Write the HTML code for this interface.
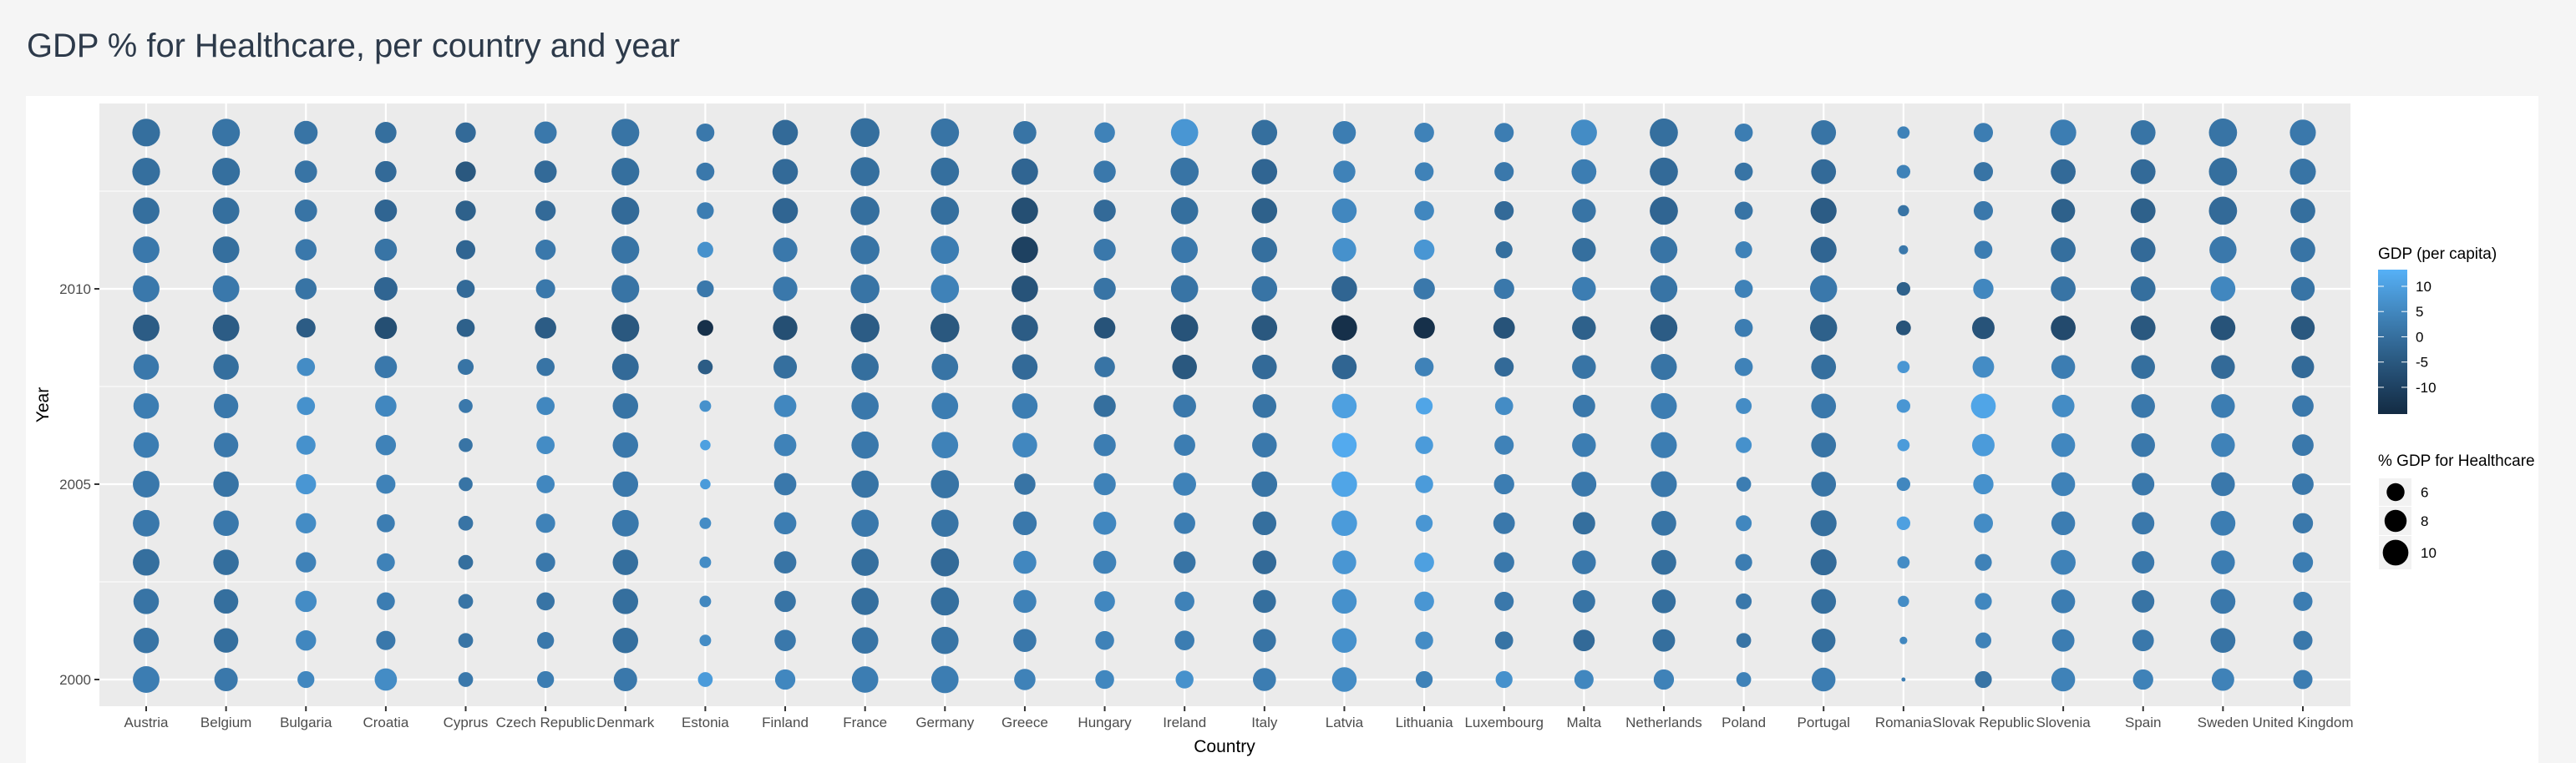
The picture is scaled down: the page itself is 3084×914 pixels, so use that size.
<!DOCTYPE html>
<html><head><meta charset="utf-8">
<style>
html,body{margin:0;padding:0;background:#f5f5f5;}
svg{display:block;}
</style></head>
<body>
<svg id="chart" width="3084" height="914" xmlns="http://www.w3.org/2000/svg">
  <rect x="0" y="0" width="3084" height="914" fill="#f5f5f5"/>
  <text x="32" y="68" font-family="'Liberation Sans', sans-serif" font-size="40" fill="#2d3a4a" textLength="782" lengthAdjust="spacingAndGlyphs">GDP % for Healthcare, per country and year</text>
  <rect x="31" y="115" width="3008" height="799" fill="#ffffff"/>
  <rect x="119" y="124" width="2695" height="722" fill="#ebebeb"/>
  <g id="grid"></g>
  <g id="points"></g>
  <g id="xaxis"></g>
  <g id="yaxis"></g>
  <text x="1466" y="901" text-anchor="middle" font-family="'Liberation Sans', sans-serif" font-size="21" fill="#000">Country</text>
  <text transform="translate(58,485) rotate(-90)" text-anchor="middle" font-family="'Liberation Sans', sans-serif" font-size="21" fill="#000">Year</text>
  <g id="legend"></g>
</svg>
<script>
const countries = ["Austria","Belgium","Bulgaria","Croatia","Cyprus","Czech Republic","Denmark","Estonia","Finland","France","Germany","Greece","Hungary","Ireland","Italy","Latvia","Lithuania","Luxembourg","Malta","Netherlands","Poland","Portugal","Romania","Slovak Republic","Slovenia","Spain","Sweden","United Kingdom"];
const years = [2014,2013,2012,2011,2010,2009,2008,2007,2006,2005,2004,2003,2002,2001,2000];
const yTicks = [2000,2005,2010];
const yMinorTicks = [2002.5,2007.5,2012.5];
const colorTicks = [10,5,0,-5,-10];
const sizeKeys = [6,8,10];
// % GDP for healthcare, rows follow `years`
const healthAustria = [11.3,11.3,10.6,10.6,10.6,10.6,9.9,9.9,9.9,10.6,10.6,10.6,9.9,9.9,10.6];
const healthBelgium = [11.3,11.3,10.6,10.6,10.6,10.6,9.9,9.3,9.3,9.9,9.9,9.9,9.3,9.3,8.7];
const healthBulgaria = [8.7,8.1,8.1,7.6,7.6,6.6,6.1,6.1,6.6,7.1,7.1,7.1,7.6,7.1,5.6];
const healthCroatia = [7.6,7.6,8.1,8.1,8.7,8.1,8.1,7.6,7.1,6.6,6.1,6.1,6.1,6.6,8.1];
const healthCyprus = [7.1,7.1,7.1,6.6,6.1,6.1,5.2,4.5,4.5,4.5,4.8,4.8,4.8,4.8,4.8];
const healthCzech = [8.1,8.1,7.1,7.1,6.6,7.6,6.1,6.1,6.1,6.1,6.6,6.6,6.1,5.6,5.6];
const healthDenmark = [11.3,11.3,11.3,11.3,11.3,11.3,10.6,9.9,9.9,9.9,10.6,9.9,9.9,9.9,8.7];
const healthEstonia = [6.1,6.1,5.6,5.2,5.6,5.2,4.8,3.8,3.5,3.5,3.8,3.8,3.8,3.8,4.8];
const healthFinland = [9.9,9.9,9.9,9.3,9.3,9.3,8.7,8.1,8.1,8.1,8.1,8.1,7.6,7.6,7.1];
const healthFrance = [12.1,12.1,12.1,12.1,12.1,12.1,11.0,11.0,11.0,11.0,11.0,11.0,11.0,10.5,10.5];
const healthGermany = [11.6,11.6,11.6,11.6,11.6,12.1,10.5,10.5,10.5,11.6,11.0,11.6,11.6,11.0,11.0];
const healthGreece = [8.5,10.5,10.5,10.5,10.5,10.5,9.9,9.9,9.4,7.6,8.9,8.5,8.5,8.5,7.6];
const healthHungary = [7.2,8.0,8.0,8.0,8.0,7.6,7.2,8.0,8.0,8.0,8.5,8.5,7.2,6.4,6.4];
const healthIreland = [11.0,11.6,11.0,10.5,11.0,11.0,9.4,8.5,7.6,8.5,7.6,8.0,6.8,6.8,6.0];
const healthItaly = [9.9,9.9,9.9,9.9,9.9,9.9,9.4,8.9,9.4,9.9,8.9,8.9,8.5,8.5,8.5];
const healthLatvia = [8.5,8.0,9.4,8.9,9.9,9.9,9.4,9.4,9.4,9.9,9.9,8.9,9.4,9.4,9.4];
const healthLithuania = [6.8,6.4,6.8,7.2,7.6,7.6,6.4,5.6,6.0,6.0,5.6,6.8,6.8,6.0,5.6];
const healthLuxembourg = [6.6,6.6,6.6,5.6,7.1,7.7,6.6,6.1,6.6,7.1,7.7,7.1,6.6,6.1,5.6];
const healthMalta = [10.2,9.5,8.9,8.9,8.9,8.9,8.9,8.2,8.9,9.5,8.2,8.9,8.2,7.7,6.6];
const healthNetherlands = [11.6,11.6,11.6,10.9,10.9,10.9,10.2,10.2,10.2,10.2,9.5,9.5,8.9,8.2,7.1];
const healthPoland = [6.1,6.1,6.1,5.6,6.1,6.1,6.1,5.2,5.2,4.8,5.2,5.6,5.2,4.8,4.8];
const healthPortugal = [9.5,9.5,10.2,10.2,10.9,10.9,9.5,9.5,9.5,9.5,10.2,10.2,9.5,8.9,8.9];
const healthRomania = [4.0,4.4,3.7,3.2,4.4,4.8,4.0,4.4,4.0,4.4,4.4,4.0,3.7,2.9,2.4];
const healthSlovak = [6.6,6.6,6.6,6.1,7.1,8.2,7.7,9.5,8.2,7.1,6.6,5.6,5.6,5.2,5.6];
const healthSlovenia = [10.2,9.5,8.9,9.5,9.5,9.5,8.9,8.2,8.9,8.9,8.9,9.5,8.9,8.2,8.9];
const healthSpain = [9.5,9.5,9.5,9.5,9.5,9.5,8.9,8.9,8.9,8.2,8.2,8.2,8.2,7.7,7.1];
const healthSweden = [11.6,11.6,11.6,10.9,9.5,9.5,8.9,8.9,8.9,8.9,9.5,8.9,9.5,9.5,8.2];
const healthUK = [10.2,10.2,9.5,9.5,8.9,8.9,8.2,7.7,7.7,7.7,7.1,7.1,6.6,6.6,6.6];
// GDP per capita growth, rows follow `years`
const gdpAustria = [0,0,0,2,2,-4,2,3,3,2,2,0,1,1,3];
const gdpBelgium = [1,0,0,0,2,-4,0,2,2,1,2,0,0,0,2];
const gdpBulgaria = [1,1,1,2,1,-4,6,7,7,8,6,4,6,5,5];
const gdpCroatia = [0,-1,-2,1,-2,-7,2,5,4,4,3,4,3,2,6];
const gdpCyprus = [-1,-5,-3,-2,-1,-3,1,2,1,1,1,0,1,1,2];
const gdpCzech = [2,-1,-1,2,2,-4,1,5,6,5,4,2,1,2,3];
const gdpDenmark = [1,0,-1,1,1,-5,-1,1,2,2,2,0,0,0,2];
const gdpEstonia = [2,2,3,7,2,-14,-4,7,10,9,6,6,5,6,9];
const gdpFinland = [-1,-1,-2,2,2,-7,0,5,4,2,3,1,1,2,5];
const gdpFrance = [0,0,0,1,1,-4,0,2,2,1,2,0,0,1,3];
const gdpGermany = [1,0,0,3,4,-5,1,3,4,1,1,-1,0,1,3];
const gdpGreece = [1,-2,-7,-10,-6,-4,-1,3,5,1,2,5,4,2,4];
const gdpHungary = [4,2,-1,2,1,-6,1,0,3,4,5,4,5,4,5];
const gdpIreland = [8,1,0,2,1,-6,-5,2,3,4,3,1,4,3,7];
const gdpItaly = [0,-2,-3,0,1,-5,-1,1,2,1,0,-1,0,1,3];
const gdpLatvia = [3,4,5,7,-2,-14,-2,10,12,11,9,8,7,7,6];
const gdpLithuania = [4,4,5,8,2,-14,4,11,9,9,8,10,8,6,4];
const gdpLuxembourg = [3,2,-1,0,2,-6,-1,6,4,3,2,2,2,1,7];
const gdpMalta = [6,3,1,0,3,-3,1,2,3,2,0,2,1,-1,5];
const gdpNetherlands = [0,-1,-2,1,1,-4,1,3,3,2,1,0,0,0,4];
const gdpPoland = [3,1,1,4,4,3,4,6,7,3,5,3,2,1,4];
const gdpPortugal = [1,-1,-4,-2,2,-3,0,2,1,1,0,-1,0,0,3];
const gdpRomania = [4,4,1,2,-3,-6,8,8,9,5,10,6,6,5,3];
const gdpSlovak = [3,1,2,3,5,-6,6,11,9,7,6,4,5,4,1];
const gdpSlovenia = [3,-1,-3,0,1,-8,3,6,5,4,3,4,3,3,4];
const gdpSpain = [1,-1,-3,-1,0,-5,0,2,2,2,2,2,1,2,4];
const gdpSweden = [1,0,-1,2,5,-6,-1,3,4,2,3,3,2,1,4];
const gdpUK = [2,1,0,1,1,-5,-1,2,2,2,2,3,3,2,3];

const healthByCountry = [healthAustria,healthBelgium,healthBulgaria,healthCroatia,healthCyprus,healthCzech,healthDenmark,healthEstonia,healthFinland,healthFrance,healthGermany,healthGreece,healthHungary,healthIreland,healthItaly,healthLatvia,healthLithuania,healthLuxembourg,healthMalta,healthNetherlands,healthPoland,healthPortugal,healthRomania,healthSlovak,healthSlovenia,healthSpain,healthSweden,healthUK];
const gdpByCountry = [gdpAustria,gdpBelgium,gdpBulgaria,gdpCroatia,gdpCyprus,gdpCzech,gdpDenmark,gdpEstonia,gdpFinland,gdpFrance,gdpGermany,gdpGreece,gdpHungary,gdpIreland,gdpItaly,gdpLatvia,gdpLithuania,gdpLuxembourg,gdpMalta,gdpNetherlands,gdpPoland,gdpPortugal,gdpRomania,gdpSlovak,gdpSlovenia,gdpSpain,gdpSweden,gdpUK];

const NS = "http://www.w3.org/2000/svg";
const PX0 = 119, PX1 = 2814, PY0 = 124, PY1 = 846;
const FIRSTX = 175, LASTX = 2757;
function xScale(i){ return FIRSTX + i*(LASTX-FIRSTX)/(countries.length-1); }
function yScale(y){ return 814 + (y-2000)*(346-814)/10; }
function rScale(v){ return 5.5*Math.sqrt(Math.max(v-2.2,0.05)); }
const CMIN = -15.3, CMAX = 13.3;
function srgb2lin(c){ c/=255; return c<=0.04045?c/12.92:Math.pow((c+0.055)/1.055,2.4); }
function lin2srgb(c){ c = c<=0.0031308?12.92*c:1.055*Math.pow(c,1/2.4)-0.055; return Math.round(Math.max(0,Math.min(1,c))*255); }
function toLab(hex){
  const r=srgb2lin(parseInt(hex.substr(1,2),16)), g=srgb2lin(parseInt(hex.substr(3,2),16)), b=srgb2lin(parseInt(hex.substr(5,2),16));
  let X=(0.4124*r+0.3576*g+0.1805*b)/0.95047, Y=(0.2126*r+0.7152*g+0.0722*b), Z=(0.0193*r+0.1192*g+0.9505*b)/1.08883;
  const f=t=>t>0.008856?Math.cbrt(t):7.787*t+16/116;
  return [116*f(Y)-16, 500*(f(X)-f(Y)), 200*(f(Y)-f(Z))];
}
function fromLab(L,a,bb){
  const fy=(L+16)/116, fx=fy+a/500, fz=fy-bb/200;
  const inv=t=>t*t*t>0.008856?t*t*t:(t-16/116)/7.787;
  const X=inv(fx)*0.95047, Y=inv(fy), Z=inv(fz)*1.08883;
  const r=3.2406*X-1.5372*Y-0.4986*Z, g=-0.9689*X+1.8758*Y+0.0415*Z, b=0.0557*X-0.2040*Y+1.0570*Z;
  return "rgb("+lin2srgb(r)+","+lin2srgb(g)+","+lin2srgb(b)+")";
}
const LOW = toLab("#132B43"), HIGH = toLab("#56B1F7");
function colorScale(v){
  let t=(v-CMIN)/(CMAX-CMIN); t=Math.max(0,Math.min(1,t));
  return fromLab(LOW[0]+(HIGH[0]-LOW[0])*t, LOW[1]+(HIGH[1]-LOW[1])*t, LOW[2]+(HIGH[2]-LOW[2])*t);
}
function mk(tag, attrs, parent){
  const e=document.createElementNS(NS,tag);
  for(const k in attrs) e.setAttribute(k,attrs[k]);
  parent.appendChild(e); return e;
}

// grid
const grid=document.getElementById("grid");
yMinorTicks.forEach(y=>{
  const l=mk("line",{x1:PX0,x2:PX1,y1:yScale(y),y2:yScale(y),stroke:"#ffffff","stroke-width":1.1},grid);
  
  
});
yTicks.forEach(y=>{
  const l=mk("line",{x1:PX0,x2:PX1,y1:yScale(y),y2:yScale(y),stroke:"#ffffff","stroke-width":2.2},grid);
  
  
});
countries.forEach((c,i)=>{
  const l=mk("line",{x1:xScale(i),x2:xScale(i),y1:PY0,y2:PY1,stroke:"#ffffff","stroke-width":2.2},grid);
  
  
});

// points
const pts=document.getElementById("points");
countries.forEach((c,i)=>{
  years.forEach((y,j)=>{
    const p=mk("circle",{cx:xScale(i),cy:yScale(y),r:rScale(healthByCountry[i][j]),fill:colorScale(gdpByCountry[i][j])},pts);
    
    
  });
});

// x axis
const xa=document.getElementById("xaxis");
countries.forEach((c,i)=>{
  const t=mk("line",{x1:xScale(i),x2:xScale(i),y1:PY1,y2:PY1+6,stroke:"#333333","stroke-width":2},xa);
  
  
  const lb=mk("text",{x:xScale(i),y:871,"text-anchor":"middle","font-family":"'Liberation Sans', sans-serif","font-size":17,fill:"#4d4d4d"},xa);
  lb.textContent=c;
  
  
});
// y axis
const ya=document.getElementById("yaxis");
yTicks.forEach(y=>{
  const t=mk("line",{x1:PX0-6,x2:PX0,y1:yScale(y),y2:yScale(y),stroke:"#333333","stroke-width":2},ya);
  
  
  const lb=mk("text",{x:109,y:yScale(y)+6,"text-anchor":"end","font-family":"'Liberation Sans', sans-serif","font-size":17,fill:"#4d4d4d"},ya);
  lb.textContent=y;
  
  
});

// legend
const lg=document.getElementById("legend");
const LT = mk("text",{x:2847,y:310,"font-family":"'Liberation Sans', sans-serif","font-size":19,fill:"#000"},lg);
LT.textContent="GDP (per capita)";


const defs=mk("defs",{},lg);
const grad=mk("linearGradient",{id:"cbar",x1:0,y1:1,x2:0,y2:0},defs);
for(let k=0;k<=10;k++){
  mk("stop",{offset:k/10,"stop-color":colorScale(CMIN+(CMAX-CMIN)*k/10)},grad);
}
const CB0=323, CB1=496;
function cbY(v){ return CB1 + (v-CMIN)*(CB0-CB1)/(CMAX-CMIN); }
const bar=mk("rect",{x:2847,y:CB0,width:35,height:CB1-CB0,fill:"url(#cbar)"},lg);


colorTicks.forEach(v=>{
  const a=mk("line",{x1:2847,x2:2854,y1:cbY(v),y2:cbY(v),stroke:"#fff","stroke-width":1},lg);
  
  
  const b=mk("line",{x1:2875,x2:2882,y1:cbY(v),y2:cbY(v),stroke:"#fff","stroke-width":1},lg);
  
  
  const t=mk("text",{x:2892,y:cbY(v)+6,"font-family":"'Liberation Sans', sans-serif","font-size":17,fill:"#000"},lg);
  t.textContent=v;
  
  
});
const ST = mk("text",{x:2847,y:558,"font-family":"'Liberation Sans', sans-serif","font-size":19,fill:"#000"},lg);
ST.textContent="% GDP for Healthcare";


const keyTops=[573,607,642], keyH=[33,34,40];
sizeKeys.forEach((v,k)=>{
  const bx=mk("rect",{x:2848,y:keyTops[k],width:39,height:keyH[k],fill:"#f2f2f2"},lg);
  
  
  const cy=keyTops[k]+keyH[k]/2;
  const c=mk("circle",{cx:2868,cy:cy,r:rScale(v),fill:"#000"},lg);
  
  
  const t=mk("text",{x:2898,y:cy+6,"font-family":"'Liberation Sans', sans-serif","font-size":17,fill:"#000"},lg);
  t.textContent=v;
  
  
});
</script>
</body></html>
